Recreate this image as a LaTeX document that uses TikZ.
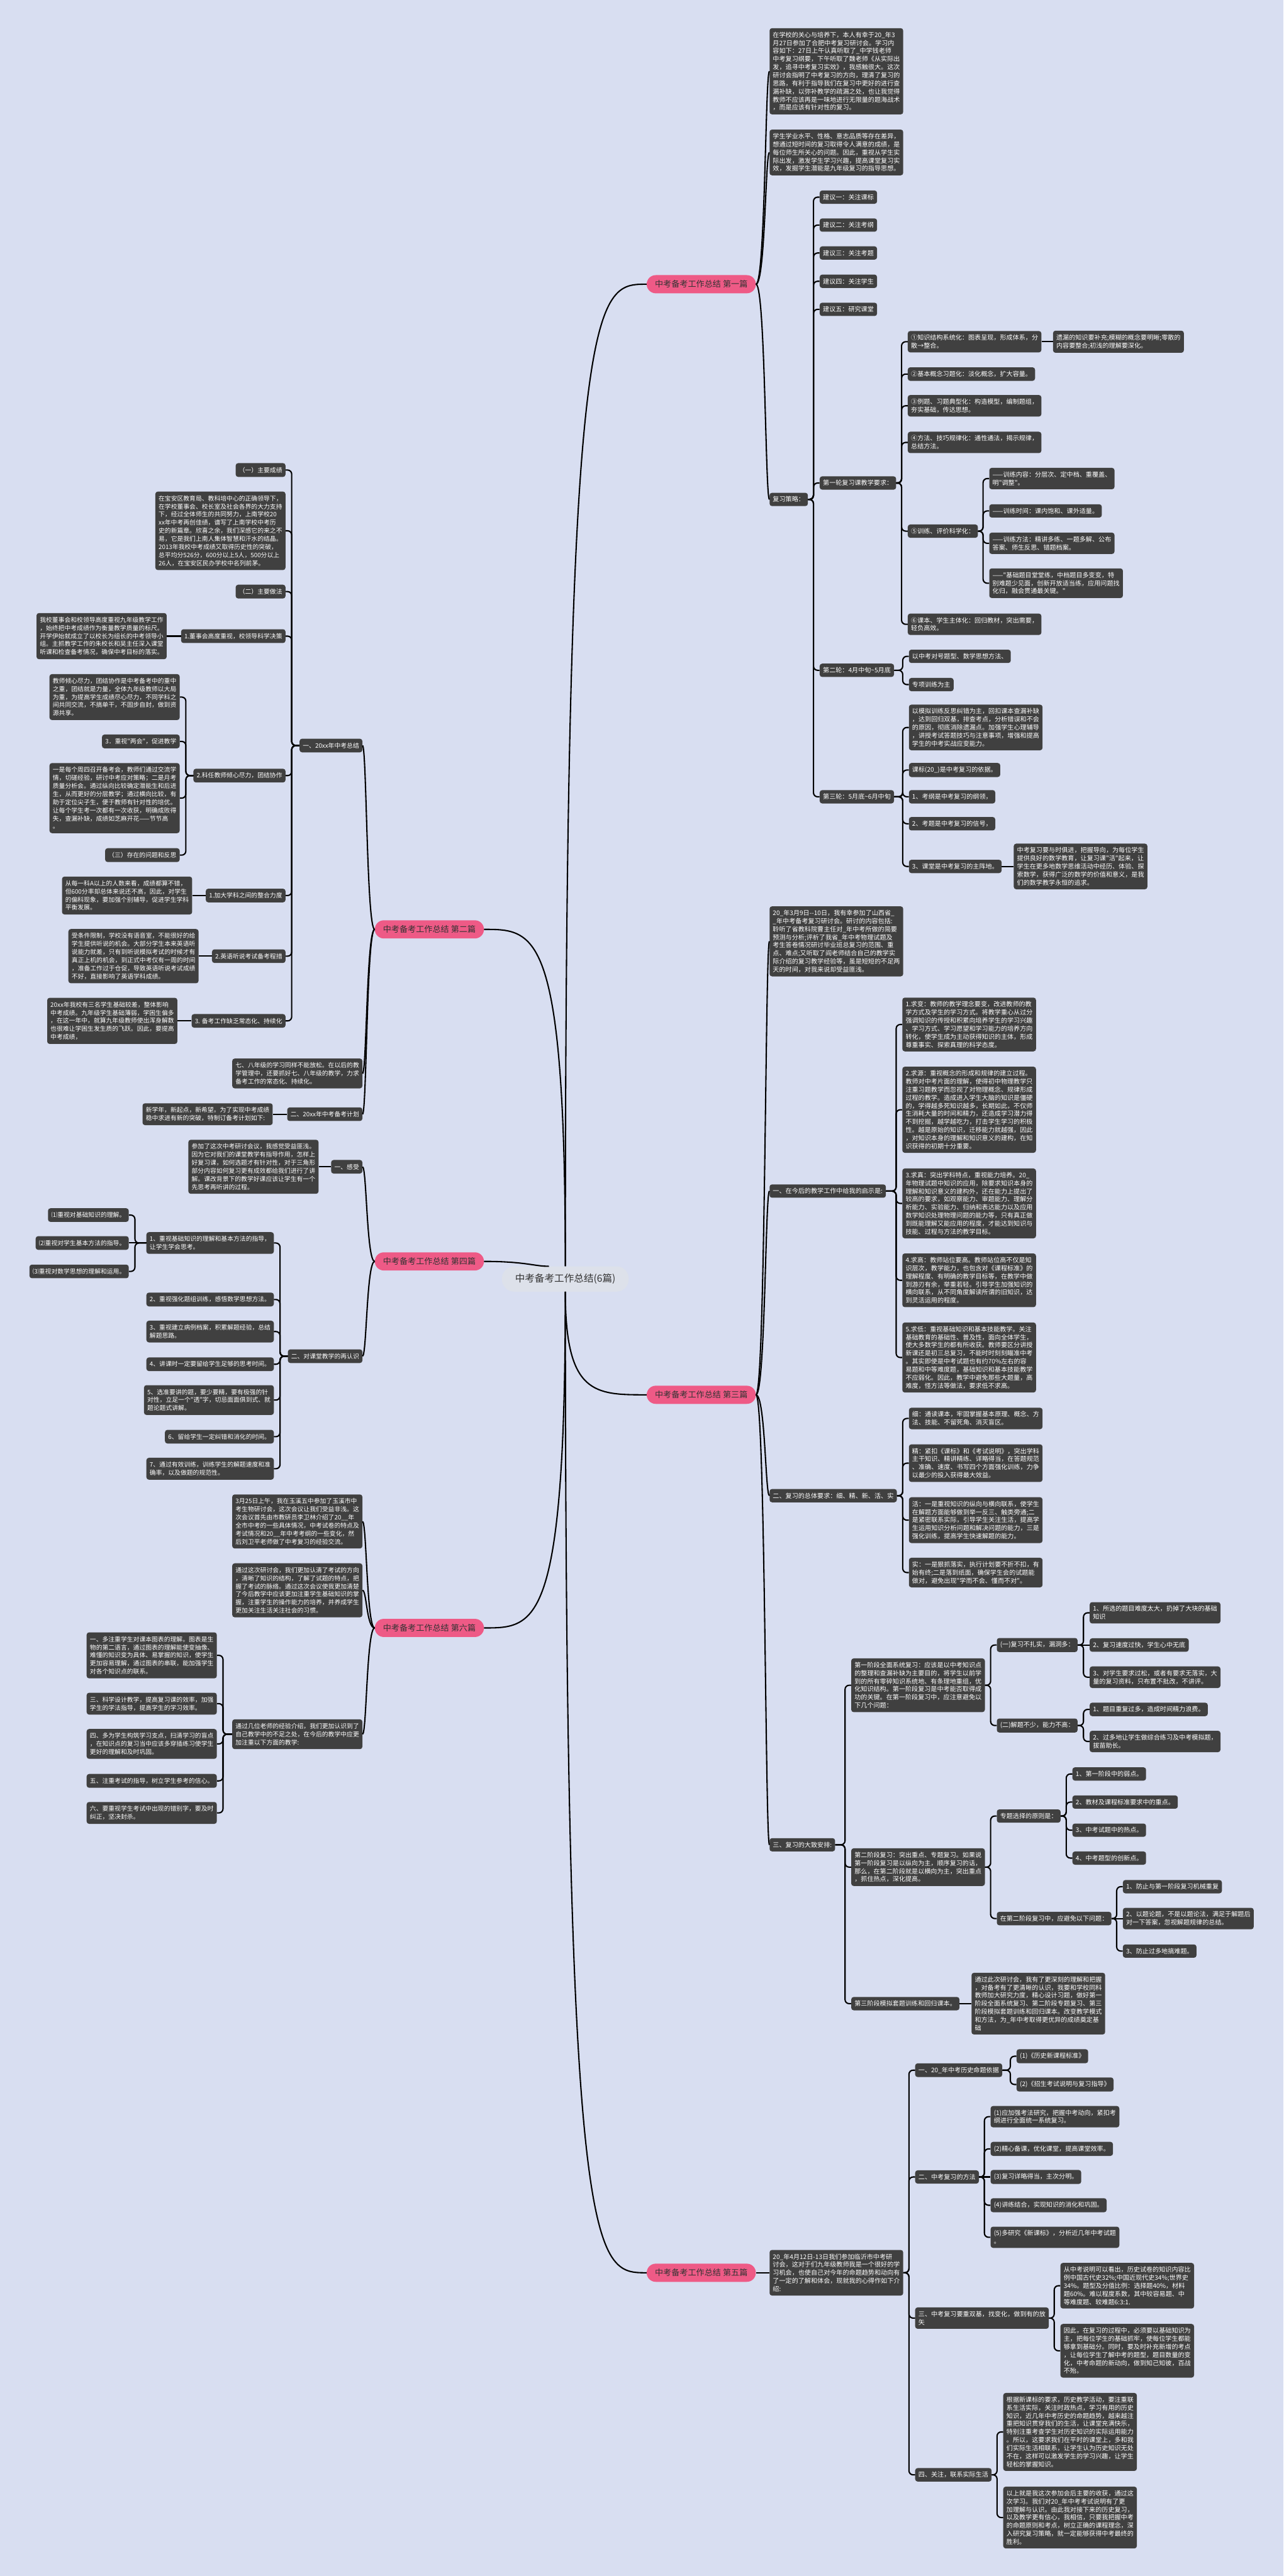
\documentclass[tikz,border=0pt]{standalone}
\usepackage{fontspec}
\newfontfamily\cjk{Noto Sans CJK SC}
\usetikzlibrary{calc}
\definecolor{bgblue}{HTML}{D8DEF1}
\definecolor{boxgray}{HTML}{404040}
\definecolor{pinkfill}{HTML}{EE5A86}
\definecolor{rootfill}{HTML}{DDE1EA}
\definecolor{inkgray}{HTML}{333333}
\newcommand{\rtxt}{\cjk\fontsize{11pt}{14pt}\selectfont}
\newcommand{\ltxt}{\cjk\fontsize{10.7pt}{14pt}\selectfont}
\newcommand{\ptxt}{\cjk\fontsize{14.3pt}{17pt}\selectfont}
\newcommand{\ctxt}{\cjk\fontsize{17pt}{20pt}\selectfont}

\begin{document}
\begin{tikzpicture}[x=1mm, y=-1mm,
    rbox/.style={fill=boxgray, text=white, rounded corners=1.5mm, align=left,
      inner xsep=2mm, inner ysep=2.25mm, font=\rtxt, anchor=west},
    lbox/.style={fill=boxgray, text=white, rounded corners=1.5mm, align=left,
      inner xsep=2mm, inner ysep=2.4mm, font=\ltxt, anchor=east},
    pink/.style={fill=pinkfill, text=inkgray, rounded corners=5.5mm,
      inner xsep=5mm, inner ysep=3.2mm, font=\ptxt},
    root/.style={fill=rootfill, text=inkgray, rounded corners=7.5mm,
      inner xsep=8mm, inner ysep=4.6mm, font=\ctxt},
    link/.style={draw=black, line width=0.8mm},
    rlink/.style={link, rounded corners=2.5mm,
      to path={-| ([xshift=-3.7mm]\tikztotarget.west) -- (\tikztotarget.west)}},
    llink/.style={link, rounded corners=2.5mm,
      to path={-| ([xshift=3.7mm]\tikztotarget.east) -- (\tikztotarget.east)}},
    rline/.style={link, to path={-- (\tikztotarget.west)}},
    lline/.style={link, to path={-- (\tikztotarget.east)}},
    rcurve/.style={link, to path={.. controls ($(\tikztotarget.west |- \tikztostart)+(-2.5,0)$)
      and ($(\tikztotarget.west)+(-2.5,0)$) .. (\tikztotarget.west)}},
    lcurve/.style={link, to path={.. controls ($(\tikztotarget.east |- \tikztostart)+(2.5,0)$)
      and ($(\tikztotarget.east)+(2.5,0)$) .. (\tikztotarget.east)}}]

  \fill[bgblue] (0,0) rectangle (781,1568);
  \useasboundingbox (0,0) rectangle (781,1568);

  % centre and the six pink branches
  \node[root] (root) at (344,778.5) {中考备考工作总结(6篇)};
  \node[pink, anchor=east] (p1) at (460,173) {中考备考工作总结 第一篇};
  \node[pink, anchor=west] (p2) at (228,565.7) {中考备考工作总结 第二篇};
  \node[pink, anchor=east] (p3) at (460,849) {中考备考工作总结 第三篇};
  \node[pink, anchor=west] (p4) at (228,767.8) {中考备考工作总结 第四篇};
  \node[pink, anchor=east] (p5) at (460,1383.4) {中考备考工作总结 第五篇};
  \node[pink, anchor=west] (p6) at (228,990.9) {中考备考工作总结 第六篇};

  \begin{scope}[every node/.style={rbox}]
    % 第一篇
    \node (a1) at (468.2,43.4) {在学校的关心与培养下，本人有幸于20\_年3\\月27日参加了合肥中考复习研讨会。学习内\\容如下：27日上午认真听取了\_中学钱老师\\中考复习纲要，下午听取了魏老师《从实际出\\发，追寻中考复习实效》，我感触很大。这次\\研讨会指明了中考复习的方向，理清了复习的\\思路，有利于指导我们在复习中更好的进行查\\漏补缺，以弥补教学的疏漏之处，也让我觉得\\教师不应该再是一味地进行无限量的题海战术\\，而是应该有针对性的复习。};
    \node (a2) at (468.2,92.8) {学生学业水平、性格、意志品质等存在差异，\\想通过短时间的复习取得令人满意的成绩，是\\每位师生所关心的问题。因此，重视从学生实\\际出发，激发学生学习兴趣，提高课堂复习实\\效，发掘学生潜能是九年级复习的指导思想。};
    \node (a3) at (468.2,304) {复习策略：};
    \node (a31) at (498.7,120) {建议一：关注课标};
    \node (a32) at (498.7,137) {建议二：关注考纲};
    \node (a33) at (498.7,154) {建议三：关注考题};
    \node (a34) at (498.7,171.2) {建议四：关注学生};
    \node (a35) at (498.7,188.3) {建议五：研究课堂};
    \node (a36) at (498.7,294) {第一轮复习课教学要求：};
    \node (a37) at (498.7,408) {第二轮：4月中旬\textasciitilde5月底};
    \node (a38) at (498.7,485) {第三轮：5月底\textasciitilde6月中旬};
    \node (b1) at (552.3,208) {①知识结构系统化：图表呈现，形成体系，分\\散→整合。};
    \node (b11) at (640.7,208) {遗漏的知识要补充;模糊的概念要明晰;零散的\\内容要整合;初浅的理解要深化。};
    \node (b2) at (552.3,227.7) {②基本概念习题化：淡化概念，扩大容量。};
    \node (b3) at (552.3,247) {③例题、习题典型化：构造模型，编制题组，\\夯实基础，传达思想。};
    \node (b4) at (552.3,269.3) {④方法、技巧规律化：通性通法，揭示规律，\\总结方法。};
    \node (b5) at (552.3,323.3) {⑤训练、评价科学化：};
    \node (b51) at (601.9,291.3) {——训练内容：分层次、定中档、重覆盖、\\明"调整"。};
    \node (b52) at (601.9,311) {——训练时间：课内饱和、课外适量。};
    \node (b53) at (601.9,330.7) {——训练方法：精讲多练、一题多解、公布\\答案、师生反思、错题档案。};
    \node (b54) at (601.9,355) {——"基础题目堂堂练，中档题目多变变，特\\别难题少见面，创新开放适当练，应用问题找\\化归，融会贯通最关键。"};
    \node (b6) at (552.3,380) {⑥课本、学生主体化：回归教材，突出需要，\\轻负高效。};
    \node (c1) at (553,399.5) {以中考对号题型、数学思想方法、};
    \node (c2) at (553,416.7) {专项训练为主};
    \node (c3) at (553,442.8) {以模拟训练反思纠错为主，回扣课本查漏补缺\\，达到回归双基，排查考点，分析错误和不会\\的原因，彻底消除遗漏点。加强学生心理辅导\\，讲授考试答题技巧与注意事项，增强和提高\\学生的中考实战应变能力。};
    \node (c4) at (553,468.7) {课标(20\_)是中考复习的依据。};
    \node (c5) at (553,485) {1、考纲是中考复习的纲领，};
    \node (c6) at (553,501.4) {2、考题是中考复习的信号，};
    \node (c7) at (553,527.4) {3、课堂是中考复习的主阵地。};
    \node (c71) at (616.8,527.4) {中考复习要与时俱进，把握导向，为每位学生\\提供良好的数学教育，让复习课"活"起来，让\\学生在更多地数学思维活动中经历、体验、探\\索数学，获得广泛的数学的价值和意义，是我\\们的数学教学永恒的追求。};

    % 第三篇
    \node (d1) at (468.2,573) {20\_年3月9日-{}-10日，我有幸参加了山西省\_\\\_年中考备考复习研讨会。研讨的内容包括:\\聆听了省教科院曹主任对\_年中考所做的简要\\预测与分析;评析了我省\_年中考物理试题及\\考生答卷情况研讨毕业班总复习的范围、重\\点、难点;又听取了阎老师结合自己的教学实\\际介绍的复习教学经验等，虽是短短的不足两\\天的时间，对我来说却受益匪浅。};
    \node (d2) at (468.2,725) {一、在今后的教学工作中给我的启示是:};
    \node (d21) at (549,623.6) {1.求变：教师的教学理念要变，改进教师的教\\学方式及学生的学习方式。将教学重心从过分\\强调知识的传授和积累向培养学生的学习兴趣\\、学习方式、学习愿望和学习能力的培养方向\\转化，使学生成为主动获得知识的主体，形成\\尊重事实、探索真理的科学态度。};
    \node (d22) at (549,675.5) {2.求源：重视概念的形成和规律的建立过程。\\教师对中考片面的理解，使得初中物理教学只\\注重习题教学而忽视了对物理概念、规律形成\\过程的教学。造成进入学生大脑的知识是僵硬\\的，学得越多死知识越多，长期如此，不仅师\\生消耗大量的时间和精力，还造成学习潜力得\\不到挖掘，越学越吃力，打击学生学习的积极\\性。越是原始的知识，迁移能力就越强，因此\\，对知识本身的理解和知识意义的建构，在知\\识获得的初期十分重要。};
    \node (d23) at (549,732.5) {3.求真：突出学科特点，重视能力培养。20\_\\年物理试题中知识的应用，除要求知识本身的\\理解和知识意义的建构外，还在能力上提出了\\较高的要求，如观察能力、审题能力、理解分\\析能力、实验能力、归纳和表达能力以及应用\\数学知识处理物理问题的能力等，只有真正做\\到既能理解又能应用的程度，才能达到知识与\\技能、过程与方法的教学目标。};
    \node (d24) at (549,779.3) {4.求高：教师站位要高。教师站位高不仅是知\\识层次，教学能力，也包含对《课程标准》的\\理解程度、有明确的教学目标等，在教学中做\\到游刃有余，举重若轻。引导学生加强知识的\\横向联系，从不同角度解读所谓的旧知识，达\\到灵活运用的程度。};
    \node (d25) at (549,826.3) {5.求低：重视基础知识和基本技能教学。关注\\基础教育的基础性、普及性，面向全体学生，\\使大多数学生的都有所收获。教师要区分讲授\\新课还是初三总复习，不能时时刻刻瞄准中考\\。其实即使是中考试题也有约70\%左右的容\\易题和中等难度题，基础知识和基本技能教学\\不应弱化。因此，教学中避免那些大题量，高\\难度，怪方法等做法，要求低不求高。};
    \node (d3) at (468.2,910.4) {二、复习的总体要求：细、精、新、活、实};
    \node (d31) at (553,863.4) {细：通读课本，牢固掌握基本原理、概念、方\\法、技能、不留死角、消灭盲区。};
    \node (d32) at (553,890.6) {精：紧扣《课标》和《考试说明》，突出学科\\主干知识、精讲精练、详略得当，在答题规范\\、准确、速度、书写四个方面强化训练，力争\\以最少的投入获得最大效益。};
    \node (d33) at (553,925.3) {活：一是重视知识的纵向与横向联系，使学生\\在解题方面能够做到举一反三、触类旁通;二\\是紧密联系实际，引导学生关注生活，提高学\\生运用知识分析问题和解决问题的能力，三是\\强化训练，提高学生快速解题的能力。};
    \node (d34) at (553,957.2) {实：一是狠抓落实，执行计划要不折不扣，有\\始有终;二是落到纸面，确保学生会的试题能\\做对，避免出现"学而不会、懂而不对"。};
    \node (d4) at (468.2,1122.9) {三、复习的大致安排:};
    \node (d41) at (517.9,1025.8) {第一阶段全面系统复习：应该是以中考知识点\\的整理和查漏补缺为主要目的，将学生以前学\\到的所有零碎知识系统地、有条理地重组，优\\化知识结构。第一阶段复习是中考能否取得成\\功的关键。在第一阶段复习中，应注意避免以\\下几个问题：};
    \node (d411) at (606.5,1001.3) {(一)复习不扎实，漏洞多：};
    \node (d4111) at (663,981.7) {1、所选的题目难度太大，扔掉了大块的基础\\知识};
    \node (d4112) at (663,1001.3) {2、复习速度过快，学生心中无底};
    \node (d4113) at (663,1020.9) {3、对学生要求过松，或者有要求无落实，大\\量的复习资料，只布置不批改，不讲评。};
    \node (d412) at (606.5,1050.3) {(二)解题不少，能力不高：};
    \node (d4121) at (663,1040.5) {1、题目重复过多，造成时间精力浪费。};
    \node (d4122) at (663,1060) {2、过多地让学生做综合练习及中考模拟题，\\拔苗助长。};
    \node (d42) at (517.9,1136.5) {第二阶段复习：突出重点、专题复习。如果说\\第一阶段复习是以纵向为主，顺序复习的话，\\那么，在第二阶段就是以横向为主，突出重点\\，抓住热点，深化提高。};
    \node (d421) at (606.5,1105.4) {专题选择的原则是：};
    \node (d4211) at (652.5,1079.8) {1、第一阶段中的弱点。};
    \node (d4212) at (652.5,1096.9) {2、教材及课程标准要求中的重点。};
    \node (d4213) at (652.5,1114) {3、中考试题中的热点。};
    \node (d4214) at (652.5,1131) {4、中考题型的创新点。};
    \node (d422) at (606.5,1167.8) {在第二阶段复习中，应避免以下问题：};
    \node (d4221) at (683.2,1148.4) {1、防止与第一阶段复习机械重复};
    \node (d4222) at (683.2,1167.8) {2、以题论题，不是以题论法，满足于解题后\\对一下答案，忽视解题规律的总结。};
    \node (d4223) at (683.2,1187.6) {3、防止过多地搞难题。};
    \node (d43) at (517.9,1219.6) {第三阶段模拟套题训练和回归课本。};
    \node (d431) at (591.1,1219.6) {通过此次研讨会，我有了更深刻的理解和把握\\，对备考有了更清晰的认识，我要和学校同科\\教师加大研究力度，精心设计习题，做好第一\\阶段全面系统复习、第二阶段专题复习、第三\\阶段模拟套题训练和回归课本。改变教学模式\\和方法，为\_年中考取得更优异的成绩奠定基\\础};

    % 第五篇
    \node (e1) at (468.2,1383.4) {20\_年4月12日-13日我们参加临沂市中考研\\讨会，这对于们九年级教师我是一个很好的学\\习机会，也使自己对今年的命题趋势和动向有\\了一定的了解和体会，现就我的心得作如下介\\绍:};
    \node (e2) at (556.8,1260.1) {一、20\_年中考历史命题依据};
    \node (e21) at (618.5,1251.6) {(1)《历史新课程标准》};
    \node (e22) at (618.5,1268.8) {(2)《招生考试说明与复习指导》};
    \node (e3) at (556.8,1325.1) {二、中考复习的方法};
    \node (e31) at (602.7,1288.4) {(1)应加强考法研究，把握中考动向，紧扣考\\纲进行全面统一系统复习。};
    \node (e32) at (602.7,1308) {(2)精心备课，优化课堂，提高课堂效率。};
    \node (e33) at (602.7,1325.1) {(3)复习详略得当，主次分明。};
    \node (e34) at (602.7,1342.3) {(4)讲练结合，实现知识的消化和巩固。};
    \node (e35) at (602.7,1361.8) {(5)多研究《新课标》，分析近几年中考试题\\。};
    \node (e4) at (556.8,1411) {三、中考复习要重双基，找变化，做到有的放\\矢};
    \node (e41) at (645.2,1391.3) {从中考说明可以看出，历史试卷的知识内容比\\例中国古代史32\%;中国近现代史34\%;世界史\\34\%。题型及分值比例：选择题40\%，材料\\题60\%。难以程度系数，其中较容易题、中\\等难度题、较难题6:3:1.};
    \node (e42) at (645.2,1430.9) {因此，在复习的过程中，必须要以基础知识为\\主，把每位学生的基础抓牢，使每位学生都能\\够拿到基础分。同时，要及时补充新增的考点\\，让每位学生了解中考的题型，题目数量的变\\化，中考命题的新动向，做到知己知彼，百战\\不殆。};
    \node (e5) at (556.8,1506.4) {四、关注，联系实际生活};
    \node (e51) at (610.4,1480.3) {根据新课标的要求，历史教学活动，要注重联\\系生活实际，关注时政热点，学习有用的历史\\知识，近几年中考历史的命题趋势，越来越注\\重把知识贯穿我们的生活，让课堂充满快乐，\\特别注重考查学生对历史知识的实际运用能力\\。所以，这要求我们在平时的课堂上，多和我\\们实际生活相联系，让学生认为历史知识无处\\不在，这样可以激发学生的学习兴趣，让学生\\轻松的掌握知识。};
    \node (e52) at (610.4,1532.4) {以上就是我这次参加会后主要的收获，通过这\\次学习。我们对20\_年中考考试说明有了更\\加理解与认识。由此我对接下来的历史复习，\\以及教学更有信心，我相信，只要我把握中考\\的命题原则和考点，树立正确的课程理念，深\\入研究复习策略，就一定能够获得中考最终的\\胜利。};
  \end{scope}

  \begin{scope}[every node/.style={lbox}]
    % 第二篇
    \node (f1) at (220.6,453.8) {一、20xx年中考总结};
    \node (f11) at (173.8,286.1) {（一）主要成绩};
    \node (f12) at (173.8,323.1) {在宝安区教育局、教科培中心的正确领导下，\\在学校董事会、校长室及社会各界的大力支持\\下，经过全体师生的共同努力，上南学校20\\xx年中考再创佳绩，谱写了上南学校中考历\\史的新篇章。欣喜之余，我们深感它的来之不\\易，它是我们上南人集体智慧和汗水的结晶。\\2013年我校中考成绩又取得历史性的突破，\\总平均分526分，600分以上5人，500分以上\\26人，在宝安区民办学校中名列前茅。};
    \node (f13) at (173.8,360.1) {（二）主要做法};
    \node (f14) at (173.8,387.2) {1.董事会高度重视，校领导科学决策};
    \node (f141) at (101.5,387.2) {我校董事会和校领导高度重视九年级教学工作\\，始终把中考成绩作为衡量教学质量的标尺。\\开学伊始就成立了以校长为组长的中考领导小\\组。主抓教学工作的朱校长和吴主任深入课堂\\听课和检查备考情况，确保中考目标的落实。};
    \node (f15) at (173.8,472.1) {2.科任教师倾心尽力，团结协作};
    \node (f151) at (109.4,424.3) {教师倾心尽力，团结协作是中考备考中的重中\\之重，团结就是力量，全体九年级教师以大局\\为重，为提高学生成绩尽心尽力，不同学科之\\间共同交流，不搞单干，不固步自封，做到资\\源共享。};
    \node (f152) at (109.4,451.3) {3．重视"两会"，促进教学};
    \node (f153) at (109.4,485.8) {一是每个周四召开备考会，教师们通过交流学\\情，切磋经验，研讨中考应对策略；二是月考\\质量分析会。通过纵向比较确定潜能生和后进\\生，从而更好的分层教学；通过横向比较，有\\助于定位尖子生，便于教师有针对性的培优。\\让每个学生考一次都有一次收获，明确成败得\\失，查漏补缺，成绩如芝麻开花——节节高\\。};
    \node (f154) at (109.4,520.5) {（三）存在的问题和反思};
    \node (f16) at (173.8,545.1) {1.加大学科之间的整合力度};
    \node (f161) at (117,545.1) {从每一科A以上的人数来看，成绩都算不错，\\但600分率却总体来说还不高，因此，对学生\\的偏科现象，要加强个别辅导，促进学生学科\\平衡发展。};
    \node (f17) at (173.8,582) {2.英语听说考试备考程措};
    \node (f171) at (120.9,582) {受条件限制，学校没有语音室，不能很好的给\\学生提供听说的机会。大部分学生本来英语听\\说能力就差，只有到听说模拟考试的时候才有\\真正上机的机会，到正式中考仅有一周的时间\\，准备工作过于仓促，导致英语听说考试成绩\\不好，直接影响了英语学科成绩。};
    \node (f18) at (173.8,621.4) {3. 备考工作缺乏常态化、持续化};
    \node (f181) at (108,621.4) {20xx年我校有三名学生基础较差，整体影响\\中考成绩。九年级学生基础薄弱，学困生偏多\\，在这一年中，就算九年级教师使出浑身解数\\也很难让学困生发生质的飞跃。因此，要提高\\中考成绩，};
    \node (f2) at (220.6,653.4) {七、八年级的学习同样不能放松。在以后的教\\学管理中，还要抓好七、八年级的教学，力求\\备考工作的常态化、持续化。};
    \node (f3) at (220.6,678.2) {二、20xx年中考备考计划};
    \node (f31) at (166,678.2) {新学年，新起点，新希望。为了实现中考成绩\\稳中求进有新的突破，特制订备考计划如下:};

    % 第四篇
    \node (g1) at (220.6,710.2) {一、感受};
    \node (g11) at (193.9,710.2) {参加了这次中考研讨会议，我感觉受益匪浅。\\因为它对我们的课堂教学有指导作用，怎样上\\好复习课，如何选题才有针对性，对于三角形\\部分内容如何复习更有成效都给我们进行了讲\\解。课改背景下的教学好课应该让学生有一个\\先思考再听讲的过程。};
    \node (g2) at (220.6,825.5) {二、对课堂教学的再认识};
    \node (g21) at (166.7,756.6) {1、重视基础知识的理解和基本方法的指导，\\让学生学会思考。};
    \node (g211) at (78.4,739.6) {⑴重视对基础知识的理解。};
    \node (g212) at (78.4,756.6) {⑵重视对学生基本方法的指导。};
    \node (g213) at (78.4,773.9) {⑶重视对数学思想的理解和运用。};
    \node (g22) at (166.7,791) {2、重视强化题组训练，感悟数学思想方法。};
    \node (g23) at (166.7,810.5) {3、重视建立病例档案，积累解题经验，总结\\解题思路。};
    \node (g24) at (166.7,830.4) {4、讲课时一定要留给学生足够的思考时间。};
    \node (g25) at (166.7,852.2) {5、选准要讲的题，要少要精，要有极强的针\\对性，立足一个"透"字，切忌面面俱到式、就\\题论题式讲解。};
    \node (g26) at (166.7,874.5) {6、留给学生一定纠错和消化的时间。};
    \node (g27) at (166.7,894) {7、通过有效训练，训练学生的解题速度和准\\确率，以及做题的规范性。};

    % 第六篇
    \node (h1) at (220.6,926.1) {3月25日上午，我在玉溪五中参加了玉溪市中\\考生物研讨会，这次会议让我们受益非浅。这\\次会议首先由市教研员李卫林介绍了20\_\_年\\全市中考的一些具体情况，中考试卷的特点及\\考试情况和20\_\_年中考考纲的一些变化，然\\后刘卫平老师做了中考复习的经验交流。};
    \node (h2) at (220.6,968) {通过这次研讨会，我们更加认清了考试的方向\\，清晰了知识的结构，了解了试题的特点，把\\握了考试的脉络。通过这次会议使我更加清楚\\了今后教学中应该更加注重学生基础知识的掌\\握，注重学生的操作能力的培养，并养成学生\\更加关注生活关注社会的习惯。};
    \node (h3) at (220.6,1055.6) {通过几位老师的经验介绍，我们更加认识到了\\自己教学中的不足之处，在今后的教学中应更\\加注重以下方面的教学:};
    \node (h31) at (132,1007.6) {一、多注重学生对课本图表的理解。图表是生\\物的第二语言，通过图表的理解能使变抽像、\\难懂的知识变为具体、易掌握的知识，使学生\\更加容易理解，通过图表的串联，能加强学生\\对各个知识点的联系。};
    \node (h32) at (132,1037) {三、科学设计教学，提高复习课的效率，加强\\学生的学法指导，提高学生的学习效率。};
    \node (h33) at (132,1061.5) {四、多为学生构筑学习支点，扫清学习的盲点\\，在知识点的复习当中应该多穿插练习使学生\\更好的理解和及时巩固。};
    \node (h34) at (132,1084) {五、注重考试的指导，树立学生参考的信心。};
    \node (h35) at (132,1103.5) {六、要重视学生考试中出现的错别字，要及时\\纠正，坚决封杀。};
  \end{scope}

  % centre to branches
  \draw[link] (root.north) .. controls (344,173) and (362,173) .. (p1.west);
  \draw[link] (root.north) .. controls (344,565.7) and (326,565.7) .. (p2.east);
  \draw[link] (root.south) .. controls (344,849) and (362,849) .. (p3.west);
  \draw[link] (root.south) .. controls (344,1383.4) and (362,1383.4) .. (p5.west);
  \draw[link] (root.south) .. controls (344,990.9) and (326,990.9) .. (p6.east);
  \draw[link] (p4.east) .. controls (320,767.8) and (326,771) .. ([xshift=-10mm]root.north);

  \begin{scope}[every edge/.style={rcurve}]
    \path (p1.east) edge (a1) edge (a2) edge (a3);
    \path (p3.east) edge (d1) edge (d2) edge (d3) edge (d4);
  \end{scope}
  \begin{scope}[every edge/.style={lcurve}]
    \path (p2.west) edge (f1) edge (f2) edge (f3);
    \path (p4.west) edge (g1) edge (g2);
    \path (p6.west) edge (h1) edge (h2) edge (h3);
  \end{scope}

  \begin{scope}[every edge/.style={rlink}]
    \path (a3.east) edge (a31) edge (a32) edge (a33) edge (a34) edge (a35)
      edge (a36) edge (a37) edge (a38);
    \path (a36.east) edge (b1) edge (b2) edge (b3) edge (b4) edge (b5) edge (b6);
    \path (b5.east) edge (b51) edge (b52) edge (b53) edge (b54);
    \path (a37.east) edge (c1) edge (c2);
    \path (a38.east) edge (c3) edge (c4) edge (c5) edge (c6) edge (c7);
    \path (d2.east) edge (d21) edge (d22) edge (d23) edge (d24) edge (d25);
    \path (d3.east) edge (d31) edge (d32) edge (d33) edge (d34);
    \path (d4.east) edge (d41) edge (d42) edge (d43);
    \path (d41.east) edge (d411) edge (d412);
    \path (d411.east) edge (d4111) edge (d4113);
    \path (d412.east) edge (d4121) edge (d4122);
    \path (d42.east) edge (d421) edge (d422);
    \path (d421.east) edge (d4211) edge (d4212) edge (d4213) edge (d4214);
    \path (d422.east) edge (d4221) edge (d4223);
    \path (e1.east) edge (e2) edge (e3) edge (e4) edge (e5);
    \path (e2.east) edge (e21) edge (e22);
    \path (e3.east) edge (e31) edge (e32) edge (e34) edge (e35);
    \path (e4.east) edge (e41) edge (e42);
    \path (e5.east) edge (e51) edge (e52);
  \end{scope}
  \begin{scope}[every edge/.style={rline}]
    \path (p5.east) edge (e1);
    \path (b1.east) edge (b11);
    \path (c7.east) edge (c71);
    \path (d411.east) edge (d4112);
    \path (d422.east) edge (d4222);
    \path (d43.east) edge (d431);
    \path (e3.east) edge (e33);
  \end{scope}

  \begin{scope}[every edge/.style={llink}]
    \path (f1.west) edge (f11) edge (f12) edge (f13) edge (f14) edge (f15)
      edge (f16) edge (f17) edge (f18);
    \path (f15.west) edge (f151) edge (f152) edge (f153) edge (f154);
    \path (g2.west) edge (g21) edge (g22) edge (g23) edge (g24) edge (g25)
      edge (g26) edge (g27);
    \path (g21.west) edge (g211) edge (g213);
    \path (h3.west) edge (h31) edge (h32) edge (h33) edge (h34) edge (h35);
  \end{scope}
  \begin{scope}[every edge/.style={lline}]
    \path (f14.west) edge (f141);
    \path (f16.west) edge (f161);
    \path (f17.west) edge (f171);
    \path (f18.west) edge (f181);
    \path (f3.west) edge (f31);
    \path (g1.west) edge (g11);
    \path (g21.west) edge (g212);
  \end{scope}

\end{tikzpicture}
\end{document}
